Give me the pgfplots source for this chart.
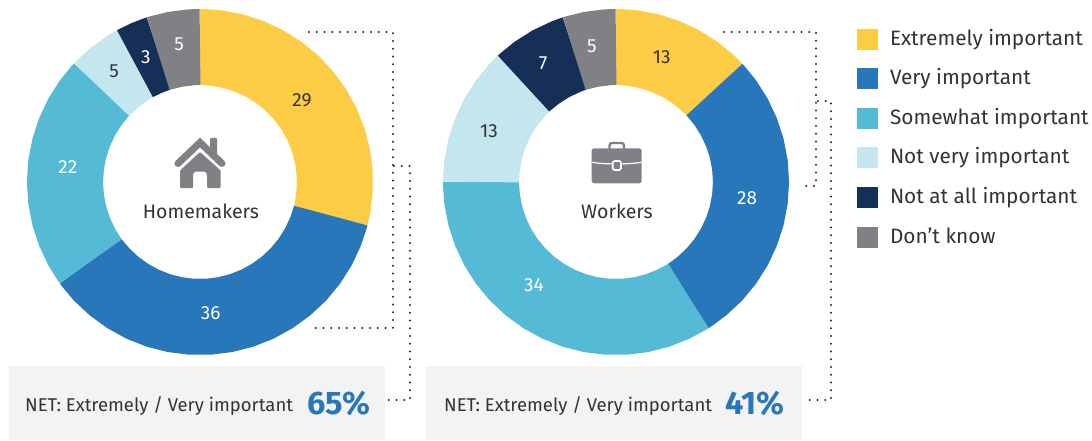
\documentclass[border=0pt]{standalone}
\usepackage{fontspec}
\setmainfont{Fira Sans}
\usepackage{pgfplots}
\usepgfplotslibrary{polar}
\pgfplotsset{compat=1.18}

\definecolor{cYellow}{HTML}{FDCC45}
\definecolor{cBlue}{HTML}{2777BA}
\definecolor{cTeal}{HTML}{55BAD6}
\definecolor{cPale}{HTML}{C4E7EF}
\definecolor{cNavy}{HTML}{152F57}
\definecolor{cGrey}{HTML}{808184}
\definecolor{cText}{HTML}{333333}
\definecolor{cBox}{HTML}{F3F3F3}

% x = cumulative percent, clockwise from 12 o'clock; y = radius in px
% short first and last steps keep the sector ends radial, each end runs just under the next sector
\pgfplotsset{
  donut/.style={
    hide axis, scale only axis, width=346pt, height=346pt,
    ymin=0, ymax=173, clip=false,
    x coord trafo/.code={\pgfmathparse{90-3.6*##1}},
    anchor=center,
  },
  sec/.style={no markers, line width=76pt, line cap=butt, color=#1},
  lab/.style={forget plot, only marks, mark=none, nodes near coords,
    point meta=explicit symbolic,
    every node near coord/.append style={anchor=center, inner sep=0pt,
      font=\fontsize{19}{22}\selectfont, text=#1}},
}

\begin{document}
\begin{tikzpicture}
\path[use as bounding box] (0,0) rectangle (1092pt,440pt);
\begin{scope}[x=1pt,y=-1pt,shift={(0pt,440pt)}]
  \fill[cBox] (9,366) rectangle (385,440);
  \fill[cBox] (426,366) rectangle (802,440);
  \tikzset{dots/.style={black!85, line width=2.4pt, line cap=round, dash pattern=on 0pt off 7.75pt}}
  \draw[dots] (309,32) -- (393,32) -- (393,328) -- (314,328);
  \draw[dots] (394,166) -- (410,166) -- (410,400) -- (386,400);
  \draw[dots] (724,32) -- (816,32) -- (816,186) -- (805,186);
  \draw[dots] (818,101) -- (831,101) -- (831,400) -- (802,400);
\end{scope}

% Homemakers
\begin{polaraxis}[donut, at={(200pt,258pt)}]
\addplot[sec=cYellow, forget plot] coordinates {(-0.05,135)(0.3,135)(2,135)(4,135)(6,135)(8,135)(10,135)(12,135)(14,135)(16,135)(18,135)(20,135)(22,135)(24,135)(26,135)(28,135)(28.7,135)(29.05,135)};
\addplot[sec=cBlue, forget plot] coordinates {(29,135)(29.3,135)(31,135)(33,135)(35,135)(37,135)(39,135)(41,135)(43,135)(45,135)(47,135)(49,135)(51,135)(53,135)(55,135)(57,135)(59,135)(61,135)(63,135)(64.7,135)(65.05,135)};
\addplot[sec=cTeal, forget plot] coordinates {(65,135)(65.3,135)(67,135)(69,135)(71,135)(73,135)(75,135)(77,135)(79,135)(81,135)(83,135)(85,135)(86.7,135)(87.05,135)};
\addplot[sec=cPale, forget plot] coordinates {(87,135)(87.3,135)(89,135)(91,135)(91.7,135)(92.05,135)};
\addplot[sec=cNavy, forget plot] coordinates {(92,135)(92.3,135)(93.5,135)(94.7,135)(95.05,135)};
\addplot[sec=cGrey, forget plot] coordinates {(95,135)(95.3,135)(97,135)(99,135)(99.7,135)(100,135)};
\addplot[lab=cText] table[meta=l] {
p r l
14.2 131 29
89.5 140 5
};
\addplot[lab=white] table[meta=l] {
p r l
48.7 131.5 36
76.8 133 22
93.5 136 3
97.6 139.6 5
};
\end{polaraxis}

% Workers, carries the legend
\begin{polaraxis}[donut, at={(616pt,258pt)},
  legend image code/.code={\fill[#1, draw=none, line width=0pt] (0pt,-10.5pt) rectangle (21pt,10.5pt);},
  legend style={at={(1.196,0.944)}, anchor=north west, draw=none, fill=none,
    inner sep=0pt, row sep=18.1pt, column sep=12pt,
    font=\fontsize{20.8}{22}\selectfont, text=cText,
    nodes={inner sep=0pt, anchor=west, text height=15pt, text depth=5pt, yshift=-1pt}},
  legend cell align=left]
\addplot[sec=cYellow] coordinates {(-0.05,135)(0.3,135)(2,135)(4,135)(6,135)(8,135)(10,135)(12,135)(12.7,135)(13.05,135)};
\addlegendentry{Extremely important}
\addplot[sec=cBlue] coordinates {(13,135)(13.3,135)(15,135)(17,135)(19,135)(21,135)(23,135)(25,135)(27,135)(29,135)(31,135)(33,135)(35,135)(37,135)(39,135)(40.7,135)(41.05,135)};
\addlegendentry{Very important}
\addplot[sec=cTeal] coordinates {(41,135)(41.3,135)(43,135)(45,135)(47,135)(49,135)(51,135)(53,135)(55,135)(57,135)(59,135)(61,135)(63,135)(65,135)(67,135)(69,135)(71,135)(73,135)(74.7,135)(75.05,135)};
\addlegendentry{Somewhat important}
\addplot[sec=cPale] coordinates {(75,135)(75.3,135)(77,135)(79,135)(81,135)(83,135)(85,135)(87,135)(87.7,135)(88.05,135)};
\addlegendentry{Not very important}
\addplot[sec=cNavy] coordinates {(88,135)(88.3,135)(90,135)(92,135)(94,135)(94.7,135)(95.05,135)};
\addlegendentry{Not at all important}
\addplot[sec=cGrey] coordinates {(95,135)(95.3,135)(97,135)(99,135)(99.7,135)(100,135)};
\addlegendentry{Don't know}
\addplot[lab=cText] table[meta=l] {
p r l
5.6 133 13
81.1 137 13
};
\addplot[lab=white] table[meta=l] {
p r l
26.9 132 28
60.7 131.7 34
91.25 139.6 7
97.2 138 5
};
\end{polaraxis}

\begin{scope}[x=1pt,y=-1pt,shift={(0pt,440pt)}]
  % house icon
  \fill[cGrey, rounded corners=1pt] (210,138) rectangle (217,155);
  \draw[cGrey, line width=7pt, line cap=round, miter limit=10] (178,163.5) -- (200,142.5) -- (222,163.5);
  \fill[cGrey, rounded corners=1pt] (180,170.5) -- (200,152) -- (220.7,170.5) -- (220.7,188) -- (207,188) -- (207,174) -- (205,171.5) -- (195,171.5) -- (193,174) -- (193,188) -- (180,188) -- cycle;
  % briefcase icon
  \draw[cGrey, line width=2.4pt, rounded corners=2.5pt] (609.5,149) -- (609.5,143) -- (624,143) -- (624,149);
  \fill[cGrey, rounded corners=2.5pt] (591.7,148.3) rectangle (641.7,183.3);
  \draw[white, line width=1.2pt] (591.7,162.3) .. controls (605,164.5) and (628,164.5) .. (641.7,162.3);
  \draw[white, fill=cGrey, line width=1.6pt, rounded corners=1.5pt] (612.7,161) rectangle (621,170);
  % centre names
  \node[text=cText, font=\fontsize{19.5}{22}\selectfont, anchor=center] at (201,211) {Homemakers};
  \node[text=cText, font=\fontsize{19.5}{22}\selectfont, anchor=center] at (617,211) {Workers};
  % net boxes
  \node[text=cText, font=\fontsize{18.5}{22}\selectfont, anchor=base west, inner sep=0pt] at (25,411) {NET: Extremely / Very important};
  \node[text=cBlue, font=\fontsize{32.5}{34}\selectfont\bfseries, anchor=base west, inner sep=0pt] at (307,414) {65\%};
  \node[text=cText, font=\fontsize{18.5}{22}\selectfont, anchor=base west, inner sep=0pt] at (444,411) {NET: Extremely / Very important};
  \node[text=cBlue, font=\fontsize{32.5}{34}\selectfont\bfseries, anchor=base west, inner sep=0pt] at (725,414) {41\%};
\end{scope}
\end{tikzpicture}
\end{document}
